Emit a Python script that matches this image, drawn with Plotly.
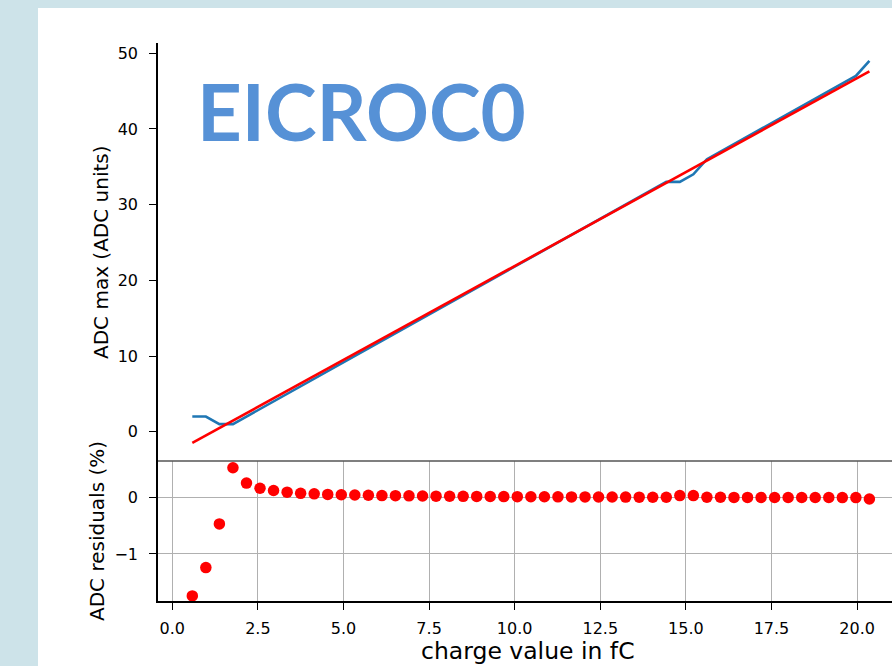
import plotly.graph_objects as go

# ---------------- data ----------------
charge_fc = [0.585, 0.981, 1.376, 1.772, 2.167, 2.563, 2.958, 3.354, 3.749, 4.145,
             4.540, 4.936, 5.331, 5.727, 6.122, 6.518, 6.913, 7.309, 7.704, 8.100,
             8.495, 8.891, 9.286, 9.682, 10.077, 10.473, 10.868, 11.264, 11.659, 12.055,
             12.450, 12.846, 13.241, 13.637, 14.032, 14.428, 14.823, 15.219, 15.614, 16.010,
             16.405, 16.801, 17.196, 17.592, 17.987, 18.383, 18.778, 19.174, 19.569, 19.965,
             20.360]

adc_max = [2, 2, 1, 1, 2, 3, 4, 5, 6, 7,
           8, 9, 10, 11, 12, 13, 14, 15, 16, 17,
           18, 19, 20, 21, 22, 23, 24, 25, 26, 27,
           28, 29, 30, 31, 32, 33, 33, 34, 36, 37,
           38, 39, 40, 41, 42, 43, 44, 45, 46, 47,
           49]

fit_x = [0.585, 20.360]
fit_y = [-1.48, 47.6]

residuals = [-1.74, -1.24, -0.47, 0.52, 0.25, 0.16, 0.12, 0.09, 0.07, 0.06,
             0.05, 0.045, 0.04, 0.035, 0.03, 0.028, 0.025, 0.022, 0.02, 0.018,
             0.016, 0.015, 0.013, 0.012, 0.011, 0.01, 0.009, 0.008, 0.007, 0.006,
             0.005, 0.004, 0.003, 0.002, 0.001, 0.0, 0.03, 0.03, 0.0, 0.0,
             -0.002, -0.002, -0.003, -0.003, -0.003, -0.004, -0.004, -0.004, -0.005, -0.005,
             -0.03]

top_yticks = [0, 10, 20, 30, 40, 50]
bot_yticks = [-1, 0]
x_ticks = [0.0, 2.5, 5.0, 7.5, 10.0, 12.5, 15.0, 17.5, 20.0]

title_text = "EICROC0"
ylabel_top = "ADC max (ADC units)"
ylabel_bot = "ADC residuals (%)"
xlabel = "charge value in fC"

# ---------------- layout geometry ----------------
W, H = 892, 666
ML, MR, MT, MB = 158, 0, 43, 65
PW = W - ML - MR
PH = H - MT - MB
split = (601 - 461) / PH  # bottom panel fraction
BG = "#cde3e9"


def px_x(p):
    return (p - ML) / PW


def px_y(p):
    return (H - MB - p) / PH


fig = go.Figure()

fig.add_trace(go.Scatter(x=charge_fc, y=adc_max, mode="lines",
                         line=dict(color="#1f77b4", width=2.6),
                         xaxis="x", yaxis="y", showlegend=False))
fig.add_trace(go.Scatter(x=fit_x, y=fit_y, mode="lines",
                         line=dict(color="#ff0000", width=2.6),
                         xaxis="x", yaxis="y", showlegend=False))
fig.add_trace(go.Scatter(x=charge_fc, y=residuals, mode="markers",
                         marker=dict(color="#ff0000", size=11.5),
                         xaxis="x2", yaxis="y2", showlegend=False, cliponaxis=False))

tickfont = dict(family="DejaVu Sans", size=16, color="#000000")
xr = [-0.417, 21.02]
ytick_common = dict(ticks="outside", ticklen=7, tickwidth=1.3, tickcolor="#000000",
                    showline=True, linecolor="#000000", linewidth=1.5,
                    zeroline=False, tickfont=tickfont, ticklabelstandoff=8)

fig.update_layout(
    width=W, height=H,
    margin=dict(l=ML, r=MR, t=MT, b=MB, pad=0),
    paper_bgcolor=BG,
    plot_bgcolor="#ffffff",
    xaxis=dict(domain=[0, 1], range=xr, anchor="y", matches="x2",
               showticklabels=False, ticks="", showline=False, showgrid=False,
               zeroline=False),
    yaxis=dict(domain=[split, 1], range=[-3.87, 51.35], anchor="x",
               tickvals=top_yticks, showgrid=False, **ytick_common),
    xaxis2=dict(domain=[0, 1], range=xr, anchor="y2",
                tickvals=x_ticks, ticktext=[f"{v:.1f}" for v in x_ticks],
                ticks="outside", ticklen=7, tickwidth=1.3, tickcolor="#000000",
                showline=True, linecolor="#000000", linewidth=1.5,
                showgrid=True, gridcolor="#b0b0b0", gridwidth=1.2,
                zeroline=False, tickfont=tickfont, ticklabelstandoff=5),
    yaxis2=dict(domain=[0, split], range=[-1.83, 0.64], anchor="x2",
                tickvals=bot_yticks, showgrid=True, gridcolor="#b0b0b0", gridwidth=1.2,
                **ytick_common),
    shapes=[
        dict(type="rect", xref="paper", yref="paper",
             x0=px_x(38), x1=1.05, y0=px_y(H + 5), y1=px_y(8),
             fillcolor="#ffffff", line=dict(width=0), layer="below"),
        dict(type="line", xref="paper", yref="paper",
             x0=0, x1=1, y0=split, y1=split,
             line=dict(color="#555555", width=1.5), layer="above"),
    ],
    annotations=[
        dict(text=title_text, xref="paper", yref="paper",
             x=px_x(361), y=px_y(111), xanchor="center", yanchor="middle",
             showarrow=False,
             font=dict(family="Lato", size=78, color="#5691d6", weight="bold")),
        dict(text=ylabel_top, xref="paper", yref="paper",
             x=px_x(101), y=px_y(252), xanchor="center", yanchor="middle",
             textangle=-90, showarrow=False,
             font=dict(family="DejaVu Sans", size=20, color="#000000")),
        dict(text=ylabel_bot, xref="paper", yref="paper",
             x=px_x(97), y=px_y(531), xanchor="center", yanchor="middle",
             textangle=-90, showarrow=False,
             font=dict(family="DejaVu Sans", size=20, color="#000000")),
        dict(text=xlabel, xref="paper", yref="paper",
             x=px_x(528), y=px_y(651), xanchor="center", yanchor="middle",
             showarrow=False,
             font=dict(family="DejaVu Sans", size=23.5, color="#000000")),
    ],
)

fig.write_html(
    "out.html",
    config={"displayModeBar": False},
    post_script=(
        "document.body.style.margin='0';"
        "document.body.style.padding='0';"
        "document.body.style.overflow='hidden';"
        f"document.body.style.background='{BG}';"
    ),
)
